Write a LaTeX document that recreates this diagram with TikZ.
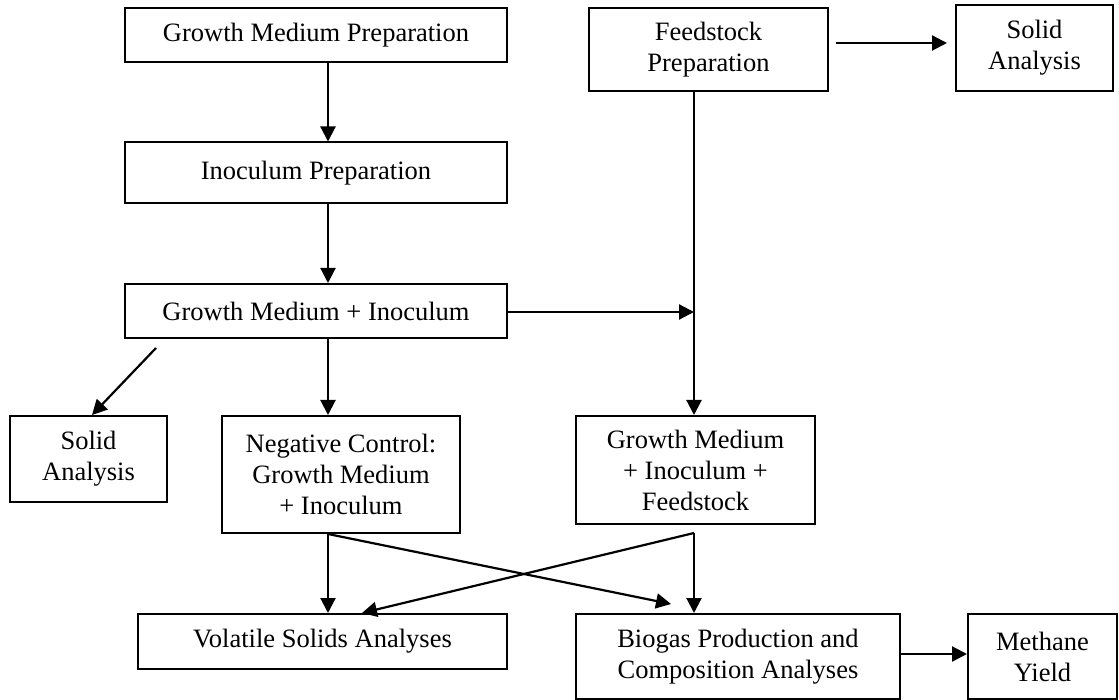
\documentclass[tikz,border=0pt]{standalone}
\usepackage{fontspec}
\setmainfont{Liberation Serif}
\usetikzlibrary{arrows.meta}
\begin{document}
\begin{tikzpicture}[x=1pt,y=-1pt,
  box/.style={draw, line width=2pt, inner sep=0pt, align=center,
    font=\fontsize{26.5}{31}\selectfont},
  arr/.style={line width=2.2pt, -{Triangle[length=15pt,width=15pt]}}]
\useasboundingbox (0,0) rectangle (1119,700);
% boxes
\node[box, minimum width=382pt, minimum height=54pt] (gmp) at (316,35) {Growth Medium Preparation};
\node[box, minimum width=382pt, minimum height=61pt] (inoc) at (316,173) {Inoculum Preparation};
\node[box, minimum width=382pt, minimum height=54pt] (gmi) at (316,311) {Growth Medium + Inoculum};
\node[box, minimum width=157pt, minimum height=86pt] (solidL) at (88.5,459) {Solid\\Analysis};
\node[box, minimum width=238pt, minimum height=117pt] (neg) at (341,474.5) {Negative Control:\\Growth Medium\\+ Inoculum};
\node[box, minimum width=239pt, minimum height=108pt] (gmif) at (695.5,470) {Growth Medium\\+ Inoculum +\\Feedstock};
\node[box, minimum width=239pt, minimum height=83pt] (feed) at (708.5,49.5) {Feedstock\\Preparation};
\node[box, minimum width=157pt, minimum height=86pt] (solidT) at (1034.5,48) {Solid\\Analysis};
\node[box, minimum width=369pt, minimum height=55pt] (vol) at (322.5,641.5) {Volatile Solids Analyses};
\node[box, minimum width=324pt, minimum height=85pt] (bio) at (738,656.5) {Biogas Production and\\Composition Analyses};
\node[box, minimum width=149pt, minimum height=85pt] (meth) at (1042.5,656.5) {Methane\\Yield};
% helper coordinates
\coordinate (xa) at (328,0);
\coordinate (xf) at (694,0);
\coordinate (xl) at (92,0);
\coordinate (yf) at (0,43);
\coordinate (yj) at (0,312);
\coordinate (ym) at (0,654);
\coordinate (j) at (694,312);
\coordinate (sl) at (156,348);
\coordinate (fb) at (694,533);
\coordinate (t1) at (671,604);
\coordinate (t2) at (362,613);
% connectors
\draw[arr] (gmp.south -| xa) -- (inoc.north -| xa);
\draw[arr] (inoc.south -| xa) -- (gmi.north -| xa);
\draw[arr] (gmi.south -| xa) -- (neg.north -| xa);
\draw[arr] (neg.south -| xa) -- (vol.north -| xa);
\draw[arr] (neg.south -| xa) -- (t1);
\draw[arr] (fb) -- (t2);
\draw[arr] (fb) -- (bio.north -| xf);
\draw[arr, shorten <=7pt, shorten >=8pt] (feed.east |- yf) -- (solidT.west |- yf);
\draw[arr] (feed.south -| xf) -- (gmif.north -| xf);
\draw[arr] (gmi.east |- yj) -- (j);
\draw[arr] (sl) -- (solidL.north -| xl);
\draw[arr] (bio.east |- ym) -- (meth.west |- ym);
\end{tikzpicture}
\end{document}
